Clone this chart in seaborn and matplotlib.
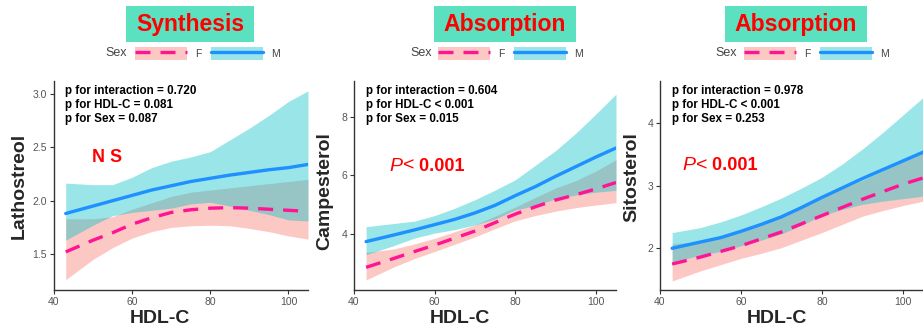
import matplotlib
matplotlib.use("Agg")
import matplotlib.pyplot as plt
import seaborn as sns
import pandas as pd
from matplotlib.patches import Patch, Rectangle
from matplotlib.lines import Line2D
from matplotlib.legend_handler import HandlerTuple

# ── Data ──────────────────────────────────────────────────────────────────────
hdl = [43, 50, 55, 60, 65, 70, 75, 80, 85, 90, 95, 100, 105]

# Lathosterol
lat_F_fit = [1.52, 1.63, 1.70, 1.78, 1.84, 1.89, 1.915, 1.93, 1.935, 1.93, 1.92, 1.91, 1.90]
lat_F_lo  = [1.26, 1.45, 1.56, 1.65, 1.71, 1.75, 1.765, 1.77, 1.765, 1.74, 1.71, 1.67, 1.64]
lat_F_hi  = [1.83, 1.83, 1.85, 1.92, 1.98, 2.04, 2.08, 2.10, 2.12, 2.14, 2.16, 2.18, 2.20]
lat_M_fit = [1.88, 1.95, 2.00, 2.05, 2.10, 2.14, 2.18, 2.21, 2.24, 2.265, 2.29, 2.31, 2.34]
lat_M_lo  = [1.63, 1.77, 1.86, 1.89, 1.91, 1.93, 1.97, 1.985, 1.95, 1.91, 1.87, 1.82, 1.81]
lat_M_hi  = [2.165, 2.15, 2.15, 2.22, 2.31, 2.37, 2.41, 2.46, 2.57, 2.68, 2.80, 2.93, 3.03]

# Campesterol
cam_F_fit = [2.86, 3.17, 3.40, 3.62, 3.86, 4.10, 4.39, 4.68, 4.93, 5.16, 5.34, 5.54, 5.76]
cam_F_lo  = [2.43, 2.88, 3.16, 3.40, 3.65, 3.90, 4.18, 4.45, 4.63, 4.78, 4.90, 4.99, 5.07]
cam_F_hi  = [3.37, 3.49, 3.66, 3.85, 4.08, 4.31, 4.61, 4.92, 5.25, 5.57, 5.82, 6.15, 6.54]
cam_M_fit = [3.74, 3.97, 4.14, 4.32, 4.50, 4.72, 4.98, 5.31, 5.62, 5.97, 6.30, 6.63, 6.94]
cam_M_lo  = [3.29, 3.61, 3.86, 4.03, 4.15, 4.31, 4.51, 4.82, 4.97, 5.20, 5.33, 5.43, 5.49]
cam_M_hi  = [4.25, 4.36, 4.44, 4.63, 4.88, 5.17, 5.50, 5.85, 6.35, 6.85, 7.44, 8.10, 8.78]

# Sitosterol
sit_F_fit = [1.75, 1.86, 1.95, 2.04, 2.15, 2.26, 2.39, 2.52, 2.65, 2.78, 2.90, 3.02, 3.12]
sit_F_lo  = [1.48, 1.64, 1.74, 1.84, 1.92, 2.01, 2.13, 2.25, 2.38, 2.51, 2.60, 2.68, 2.75]
sit_F_hi  = [2.07, 2.11, 2.19, 2.26, 2.41, 2.54, 2.68, 2.82, 2.95, 3.08, 3.23, 3.40, 3.54]
sit_M_fit = [2.00, 2.10, 2.17, 2.27, 2.38, 2.50, 2.65, 2.81, 2.96, 3.11, 3.25, 3.39, 3.53]
sit_M_lo  = [1.78, 1.89, 1.95, 2.04, 2.13, 2.23, 2.37, 2.52, 2.62, 2.70, 2.75, 2.79, 2.83]
sit_M_hi  = [2.25, 2.33, 2.42, 2.53, 2.66, 2.80, 2.96, 3.13, 3.34, 3.58, 3.84, 4.12, 4.40]

titles    = ["Synthesis", "Absorption", "Absorption"]
ylabels   = ["Lathostreol", "Campesterol", "Sitosterol"]
stats     = [
    "p for interaction = 0.720\np for HDL-C = 0.081\np for Sex = 0.087",
    "p for interaction = 0.604\np for HDL-C < 0.001\np for Sex = 0.015",
    "p for interaction = 0.978\np for HDL-C < 0.001\np for Sex = 0.253",
]
yticks    = [[1.5, 2.0, 2.5, 3.0], [4, 6, 8], [2, 3, 4]]
ylims     = [(1.163, 3.122), (2.085, 9.23), (1.336, 4.664)]
xticks    = [40, 60, 80, 100]

panels = [
    (lat_F_fit, lat_F_lo, lat_F_hi, lat_M_fit, lat_M_lo, lat_M_hi),
    (cam_F_fit, cam_F_lo, cam_F_hi, cam_M_fit, cam_M_lo, cam_M_hi),
    (sit_F_fit, sit_F_lo, sit_F_hi, sit_M_fit, sit_M_lo, sit_M_hi),
]

# ── Style ─────────────────────────────────────────────────────────────────────
sns.set_style("ticks")
plt.rcParams["font.family"] = ["Liberation Sans", "DejaVu Sans"]

F_LINE, M_LINE = "#FF1493", "#1E90FF"
F_BAND, M_BAND = "#F8766D", "#00BFC4"
BOX_GREEN = "#5CE1C0"
W, H = 923, 331

fig = plt.figure(figsize=(W / 100, H / 100), dpi=100)

# layout in pixels
ax_px = [(54, 308), (354, 616), (660, 923)]
title_px = [(126, 254), (434, 576), (725, 867)]
legend_px = [(127, 135), (432, 438), (737, 744)]
ylab_pos = [(-0.138, 0.498), (-0.111, 0.474), (-0.106, 0.54)]
xlab_pos = [0.417, 0.405, 0.445]
sig_pos = [(0.151, 0.632), (0.137, 0.593), (0.086, 0.595)]

for i, (Ff, Fl, Fh, Mf, Ml, Mh) in enumerate(panels):
    l, r = ax_px[i]
    ax = fig.add_axes([l / W, 41 / H, (r - l) / W, 209 / H])

    df = pd.DataFrame({
        "HDL-C": hdl + hdl,
        "fit": Ff + Mf,
        "Sex": ["F"] * len(hdl) + ["M"] * len(hdl),
    })

    ax.fill_between(hdl, Fl, Fh, color=F_BAND, alpha=0.4, lw=0)
    ax.fill_between(hdl, Ml, Mh, color=M_BAND, alpha=0.4, lw=0)
    sns.lineplot(data=df, x="HDL-C", y="fit", hue="Sex", style="Sex",
                 palette={"F": F_LINE, "M": M_LINE},
                 dashes={"F": (4.5, 3), "M": ""},
                 linewidth=2.4, legend=False, ax=ax)

    ax.set_xlim(40, 105)
    ax.set_ylim(*ylims[i])
    ax.set_xticks(xticks)
    ax.set_yticks(yticks[i])
    if i == 0:
        ax.set_yticklabels([f"{v:.1f}" for v in yticks[i]])
    for s in ["top", "right"]:
        ax.spines[s].set_visible(False)
    for s in ["left", "bottom"]:
        ax.spines[s].set_color("#333333")
        ax.spines[s].set_linewidth(1.0)
    ax.tick_params(length=3, width=0.8, color="#333333", labelsize=7.5,
                   labelcolor="#555555", pad=2)

    ax.set_xlabel("HDL-C", fontsize=14, fontweight="bold", va="center")
    ax.xaxis.set_label_coords(xlab_pos[i], -0.134)
    ax.set_ylabel(ylabels[i], fontsize=14, fontweight="bold", va="center")
    ax.yaxis.set_label_coords(*ylab_pos[i])

    ax.text(0.045, 0.885, stats[i], transform=ax.transAxes, fontsize=8.4,
            fontweight="bold", va="center", ha="left", linespacing=1.2,
            color="black")

    sx, sy = sig_pos[i]
    if i == 0:
        ax.text(sx, sy, "N S", transform=ax.transAxes, fontsize=13,
                fontweight="bold", color="red", va="center", ha="left")
    else:
        t1 = ax.text(sx, sy, "P", transform=ax.transAxes, fontsize=14,
                     style="italic", color="red", va="center", ha="left")
        t2 = ax.annotate("<", xy=(1, 0.5), xycoords=t1, fontsize=14,
                         color="red", va="center", ha="left")
        ax.annotate(" 0.001", xy=(1, 0.5), xycoords=t2, fontsize=13,
                    fontweight="bold", color="red", va="center", ha="left")

    # green title box
    tl, tr = title_px[i]
    fig.patches.append(Rectangle((tl / W, 1 - 42 / H), (tr - tl) / W, 36 / H,
                                 transform=fig.transFigure, facecolor=BOX_GREEN,
                                 edgecolor="none"))
    fig.text((tl + tr) / 2 / W, 1 - 24 / H, titles[i], fontsize=16.6,
             fontweight="bold", color="#FF0000", ha="center", va="center")

    # legend
    sr, kl = legend_px[i]
    fig.text(sr / W, 1 - 53.5 / H, "Sex", fontsize=9, color="#444444",
             ha="right", va="center")
    handles = [
        (Patch(facecolor=F_BAND, alpha=0.4, lw=0),
         Line2D([], [], color=F_LINE, lw=2.4, ls=(0, (4.5, 3)))),
        (Patch(facecolor=M_BAND, alpha=0.4, lw=0),
         Line2D([], [], color=M_LINE, lw=2.4)),
    ]
    fig.legend(handles, ["F", "M"], ncol=2, loc="center left",
               bbox_to_anchor=(kl / W, 1 - 53.5 / H), frameon=False,
               handler_map={tuple: HandlerTuple(ndivide=1, pad=0)},
               handlelength=5.0, handleheight=1.5, handletextpad=0.8,
               columnspacing=0.9, borderpad=0, borderaxespad=0,
               fontsize=7.5, labelcolor="#444444")

fig.savefig("out.png", dpi=100)
